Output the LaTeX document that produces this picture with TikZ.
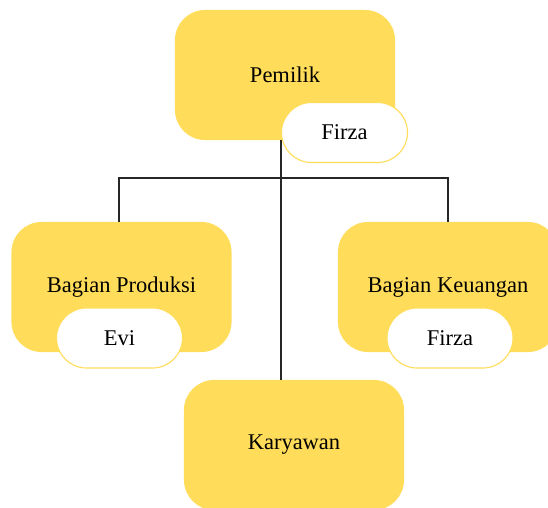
\documentclass[tikz,border=0pt]{standalone}
\usepackage{fontspec}
\setmainfont{Liberation Serif}
\usetikzlibrary{positioning}
\definecolor{kuning}{RGB}{255,221,90}

\begin{document}
\begin{tikzpicture}[
  x=0.025cm, y=-0.025cm,
  jabatan/.style={rectangle, fill=kuning, rounded corners=0.75cm, minimum width=5.5cm, minimum height=3.25cm, align=center, font=\fontsize{16}{19}\selectfont},
  nama/.style={rectangle, draw=kuning, line width=0.8pt, fill=white, rounded corners=0.75cm, minimum width=3.15cm, minimum height=1.5cm, font=\fontsize{16}{19}\selectfont},
  garis/.style={line width=1.2pt, black!85}
  ]
  \useasboundingbox (0,0) rectangle (548,508);

  % ========== Pemilik ==========
  \node[jabatan] (pemilik) at (285,75) {Pemilik};
  \node[nama] (firzaA) at (344.5,132.5) {Firza};

  % ========== Bagian ==========
  \node[jabatan] (produksi) at (121.5,287) {Bagian Produksi};
  \node[nama] (evi) at (119.5,338) {Evi};
  \node[jabatan] (keuangan) at (448,287) {Bagian Keuangan};
  \node[nama] (firzaB) at (450,338) {Firza};

  % ========== Karyawan ==========
  \node[jabatan] (karyawan) at (294,445) {Karyawan};

  % ========== garis ==========
  \coordinate (cabang) at (282,178);
  \draw[garis] (firzaA.west |- pemilik.south) -- (firzaA.west |- karyawan.north);
  \draw[garis] ([xshift=-2]produksi.north) |- (cabang) -| (keuangan.north);
\end{tikzpicture}
\end{document}
